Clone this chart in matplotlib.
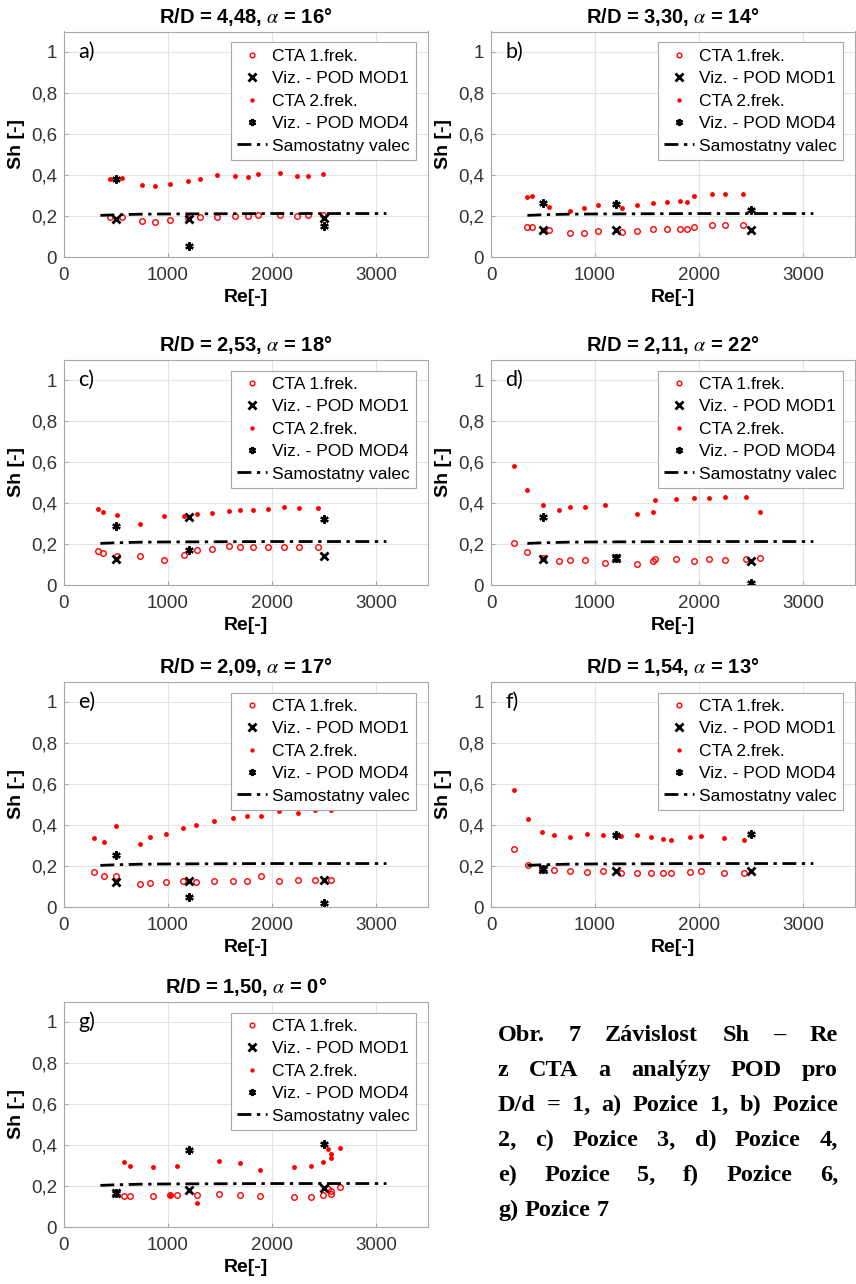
import matplotlib
matplotlib.use("Agg")
import matplotlib.pyplot as plt
from matplotlib.ticker import FuncFormatter

plt.rcParams['font.family'] = ['Liberation Sans', 'DejaVu Sans']
plt.rcParams['mathtext.fontset'] = 'stix'

# --- data ---
pod_re = [500, 1200, 2500]
re_valec = [350, 500, 750, 1000, 1500, 2000, 2500, 3100]
sh_valec = [0.203, 0.206, 0.209, 0.210, 0.211, 0.212, 0.212, 0.212]

# a) Pozice 1
a_re = [440, 560, 750, 875, 1015, 1195, 1310, 1470, 1645, 1770, 1870, 2075, 2240, 2345, 2490]
a_sh1 = [0.193, 0.193, 0.176, 0.172, 0.180, 0.190, 0.193, 0.197, 0.199, 0.199, 0.204, 0.204, 0.199, 0.204, 0.204]
a_sh2 = [0.380, 0.384, 0.351, 0.348, 0.358, 0.372, 0.379, 0.400, 0.395, 0.392, 0.405, 0.408, 0.395, 0.395, 0.406]
a_mod1 = [0.187, 0.187, 0.190]
a_mod4 = [0.380, 0.052, 0.149]

# b) Pozice 2
b_re = [345, 390, 562, 764, 898, 1032, 1256, 1406, 1553, 1694, 1818, 1886, 1950, 2122, 2247, 2426]
b_sh1 = [0.146, 0.146, 0.130, 0.115, 0.119, 0.125, 0.122, 0.128, 0.136, 0.136, 0.138, 0.135, 0.148, 0.154, 0.154, 0.154]
b_sh2 = [0.293, 0.299, 0.245, 0.226, 0.240, 0.253, 0.240, 0.253, 0.263, 0.268, 0.275, 0.268, 0.299, 0.305, 0.305, 0.309]
b_mod1 = [0.131, 0.130, 0.131]
b_mod4 = [0.263, 0.260, 0.229]

# c) Pozice 3
c_re = [324, 378, 506, 729, 962, 1151, 1281, 1425, 1582, 1690, 1818, 1958, 2112, 2259, 2441]
c_sh1 = [0.166, 0.156, 0.143, 0.141, 0.120, 0.148, 0.169, 0.177, 0.190, 0.183, 0.187, 0.185, 0.185, 0.183, 0.185]
c_sh2 = [0.372, 0.356, 0.343, 0.296, 0.335, 0.338, 0.348, 0.353, 0.359, 0.366, 0.366, 0.369, 0.379, 0.376, 0.376]
c_mod1 = [0.125, 0.332, 0.140]
c_mod4 = [0.288, 0.169, 0.320]

# d) Pozice 4
d_re = [223, 348, 502, 658, 764, 908, 1093, 1406, 1553, 1579, 1783, 1956, 2094, 2247, 2455, 2583]
d_sh1 = [0.205, 0.161, 0.134, 0.117, 0.120, 0.120, 0.107, 0.102, 0.116, 0.129, 0.126, 0.119, 0.127, 0.120, 0.126, 0.132]
d_sh2 = [0.582, 0.462, 0.392, 0.364, 0.380, 0.379, 0.389, 0.346, 0.358, 0.413, 0.420, 0.423, 0.426, 0.428, 0.431, 0.358]
d_mod1 = [0.127, 0.130, 0.117]
d_mod4 = [0.332, 0.130, 0.012]

# e) Pozice 5
e_re = [288, 387, 499, 732, 831, 978, 1144, 1269, 1444, 1626, 1764, 1895, 2064, 2249, 2415, 2568]
e_sh1 = [0.171, 0.151, 0.153, 0.112, 0.117, 0.122, 0.129, 0.122, 0.125, 0.129, 0.129, 0.151, 0.125, 0.130, 0.130, 0.130]
e_sh2 = [0.335, 0.319, 0.397, 0.306, 0.340, 0.358, 0.387, 0.398, 0.421, 0.433, 0.446, 0.444, 0.467, 0.459, 0.473, 0.471]
e_mod1 = [0.124, 0.129, 0.132]
e_mod4 = [0.254, 0.051, 0.021]

# f) Pozice 6
f_re = [217, 351, 489, 601, 760, 920, 1080, 1250, 1400, 1537, 1652, 1735, 1911, 2020, 2244, 2429]
f_sh1 = [0.285, 0.207, 0.184, 0.180, 0.176, 0.171, 0.176, 0.166, 0.168, 0.166, 0.166, 0.168, 0.171, 0.174, 0.166, 0.164]
f_sh2 = [0.573, 0.428, 0.368, 0.350, 0.340, 0.355, 0.350, 0.345, 0.350, 0.342, 0.332, 0.329, 0.343, 0.348, 0.335, 0.325]
f_mod1 = [0.184, 0.176, 0.174]
f_mod4 = [0.184, 0.351, 0.356]

# g) Pozice 7
g_re = [579, 636, 857, 1017, 1087, 1281, 1486, 1693, 1885, 2208, 2374, 2489, 2543, 2565, 2571, 2655]
g_sh1 = [0.150, 0.151, 0.150, 0.158, 0.158, 0.157, 0.163, 0.157, 0.150, 0.145, 0.146, 0.155, 0.187, 0.176, 0.163, 0.194]
g_sh2 = [0.319, 0.296, 0.291, 0.158, 0.296, 0.116, 0.320, 0.311, 0.278, 0.295, 0.299, 0.316, 0.379, 0.355, 0.339, 0.385]
g_mod1 = [0.168, 0.179, 0.192]
g_mod4 = [0.168, 0.376, 0.407]

titles = ["R/D = 4,48, $\\alpha$ = 16°", "R/D = 3,30, $\\alpha$ = 14°",
          "R/D = 2,53, $\\alpha$ = 18°", "R/D = 2,11, $\\alpha$ = 22°",
          "R/D = 2,09, $\\alpha$ = 17°", "R/D = 1,54, $\\alpha$ = 13°",
          "R/D = 1,50, $\\alpha$ = 0°"]
tags = ["a)", "b)", "c)", "d)", "e)", "f)", "g)"]

caption = ["Obr. 7 Závislost Sh – Re",
           "z CTA a analýzy POD pro",
           "D/d = 1, a) Pozice 1, b) Pozice",
           "2, c) Pozice 3, d) Pozice 4,",
           "e) Pozice 5, f) Pozice 6,",
           "g) Pozice 7"]

# --- figure ---
W, H = 856, 1284
fig = plt.figure(figsize=(W / 100, H / 100), dpi=100)

lefts = [64, 491]
bottoms = [257, 585, 907, 1227]
AW, AH = 364, 225.5

panels = [(a_re, a_sh1, a_sh2, a_mod1, a_mod4),
          (b_re, b_sh1, b_sh2, b_mod1, b_mod4),
          (c_re, c_sh1, c_sh2, c_mod1, c_mod4),
          (d_re, d_sh1, d_sh2, d_mod1, d_mod4),
          (e_re, e_sh1, e_sh2, e_mod1, e_mod4),
          (f_re, f_sh1, f_sh2, f_mod1, f_mod4),
          (g_re, g_sh1, g_sh2, g_mod1, g_mod4)]

comma = FuncFormatter(lambda v, p: ('%g' % v).replace('.', ','))

for i, (re, sh1, sh2, mod1, mod4) in enumerate(panels):
    col, row = i % 2, i // 2
    ax = fig.add_axes([lefts[col] / W, (H - bottoms[row]) / H, AW / W, AH / H])
    ax.plot(re, sh1, 'o', mfc='none', mec='red', ms=4, mew=1, label='CTA 1.frek.')
    ax.plot(pod_re, mod1, 'x', color='black', ms=6, mew=2, label='Viz. - POD MOD1')
    ax.plot(re, sh2, '.', color='red', ms=5, label='CTA 2.frek.')
    ax.plot(pod_re, mod4, marker=(6, 2, 0), ls='none', color='black', ms=6, mew=1.6,
            label='Viz. - POD MOD4')
    ax.plot(re_valec, sh_valec, color='black', lw=2, dashes=(5, 2, 1.2, 2),
            label='Samostatny valec')

    ax.set_xlim(0, 3500)
    ax.set_ylim(0, 1.1)
    ax.set_xticks([0, 1000, 2000, 3000])
    ax.set_yticks([0, 0.2, 0.4, 0.6, 0.8, 1])
    ax.yaxis.set_major_formatter(comma)
    ax.grid(True, color='#e4e4e4', lw=0.8)
    ax.set_axisbelow(True)
    for s in ax.spines.values():
        s.set_color('#a8a8a8')
    ax.tick_params(direction='in', length=3, color='#a8a8a8', labelsize=13.5,
                   labelcolor='#333333', pad=5)
    ax.tick_params(axis='x', pad=7)
    ax.set_title(titles[i], fontweight='bold', fontsize=14.5, pad=6)
    ax.set_xlabel('Re[-]', fontweight='bold', fontsize=14, labelpad=4)
    ax.set_ylabel('Sh [-]', fontweight='bold', fontsize=14, labelpad=4)
    ax.text(0.04, 0.91, tags[i], transform=ax.transAxes, fontsize=15.5,
            va='center', ha='left', family=['Lato', 'DejaVu Sans'])
    leg = ax.legend(loc='upper right', bbox_to_anchor=(1 - 12 / AW, 1 - 11 / AH),
                    borderaxespad=0, fontsize=12.5, fancybox=False, framealpha=1,
                    edgecolor='#a8a8a8', handlelength=1.75, handletextpad=0.3,
                    labelspacing=0.42, borderpad=0.35, markerscale=0.85)
    leg.get_frame().set_linewidth(0.8)

# --- justified caption ---
renderer = fig.canvas.get_renderer()
cx0, cx1 = 498, 838
base = 1041
for k, line in enumerate(caption):
    words = line.split(' ')
    ts = [fig.text(0, 0, w, fontsize=17.5, fontweight='bold',
                   family=['Liberation Serif', 'DejaVu Serif']) for w in words]
    widths = [t.get_window_extent(renderer).width for t in ts]
    if k < len(caption) - 1 and len(words) > 1:
        gap = (cx1 - cx0 - sum(widths)) / (len(words) - 1)
    else:
        gap = 6
    x = cx0
    y = H - (base + k * 35)
    for t, w in zip(ts, widths):
        t.set_position((x / W, y / H))
        t.set_va('baseline')
        x += w + gap

fig.savefig('out.png', dpi=100)
